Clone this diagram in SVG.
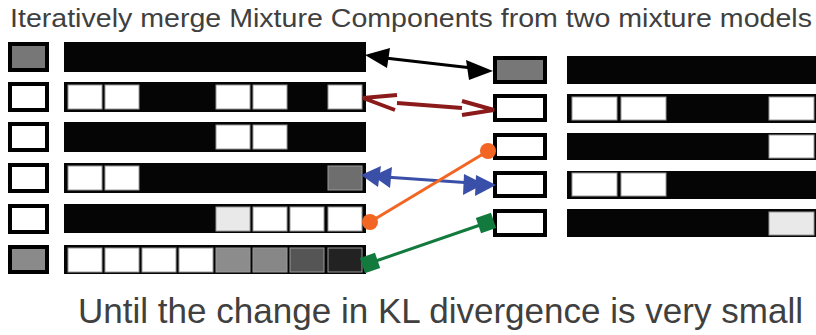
<svg xmlns="http://www.w3.org/2000/svg" width="816" height="335" viewBox="0 0 816 335">
  <style>
    .title { font-family: "Liberation Sans", Arial, Helvetica, sans-serif; fill: #404040; }
    .wbox { stroke: #000; stroke-width: 4; }
    .bar { fill: #050505; }
    .cell { stroke: #9a9a9a; stroke-width: 1; }
    .w { fill: #fff; }
  </style>
  <defs>
    <!-- left mixture cells: 8 slots, pitch 37.2 -->
    <rect id="lc" width="34" height="24" class="cell"/>
    <!-- right mixture cells: pitch 49.3 -->
    <rect id="rc" width="45" height="23" class="cell"/>
  </defs>

  <rect width="816" height="335" fill="#fff"/>

  <text class="title" x="10" y="27" font-size="26" textLength="802" lengthAdjust="spacingAndGlyphs">Iteratively merge Mixture Components from two mixture models</text>

  <!-- Left mixture model -->
  <g id="left-1">
    <rect class="wbox" x="10" y="44" width="37" height="26" fill="#777"/>
    <rect class="bar" x="64" y="42" width="302" height="30"/>
  </g>
  <g id="left-2">
    <rect class="wbox w" x="10" y="84" width="37" height="26"/>
    <rect class="bar" x="64" y="82" width="302" height="30"/>
    <use href="#lc" x="68" y="85" fill="#fff"/>
    <use href="#lc" x="105" y="85" fill="#fff"/>
    <use href="#lc" x="216" y="85" fill="#fff"/>
    <use href="#lc" x="253" y="85" fill="#fff"/>
    <use href="#lc" x="328" y="85" fill="#fff"/>
  </g>
  <g id="left-3">
    <rect class="wbox w" x="10" y="124" width="37" height="26"/>
    <rect class="bar" x="64" y="122" width="302" height="30"/>
    <use href="#lc" x="216" y="125" fill="#fff"/>
    <use href="#lc" x="253" y="125" fill="#fff"/>
  </g>
  <g id="left-4">
    <rect class="wbox w" x="10" y="165" width="37" height="26"/>
    <rect class="bar" x="64" y="163" width="302" height="30"/>
    <use href="#lc" x="68" y="166" fill="#fff"/>
    <use href="#lc" x="105" y="166" fill="#fff"/>
    <use href="#lc" x="328" y="166" fill="#6e6e6e"/>
  </g>
  <g id="left-5">
    <rect class="wbox w" x="10" y="206" width="37" height="26"/>
    <rect class="bar" x="64" y="204" width="302" height="29"/>
    <use href="#lc" x="216" y="207" fill="#e8e9e8"/>
    <use href="#lc" x="253" y="207" fill="#fff"/>
    <use href="#lc" x="290" y="207" fill="#fff"/>
    <use href="#lc" x="328" y="207" fill="#fff"/>
  </g>
  <g id="left-6">
    <rect class="wbox" x="10" y="247" width="37" height="25" fill="#8a8a8a"/>
    <rect class="bar" x="64" y="245" width="302" height="29"/>
    <use href="#lc" x="68" y="248" fill="#fff"/>
    <use href="#lc" x="105" y="248" fill="#fff"/>
    <use href="#lc" x="142" y="248" fill="#fff"/>
    <use href="#lc" x="179" y="248" fill="#fff"/>
    <use href="#lc" x="216" y="248" fill="#8c8c8c"/>
    <use href="#lc" x="253" y="248" fill="#878787"/>
    <use href="#lc" x="290" y="248" fill="#555"/>
    <use href="#lc" x="328" y="248" fill="#222"/>
  </g>

  <!-- Right mixture model -->
  <g id="right-1">
    <rect class="wbox" x="495" y="58" width="50" height="24" fill="#777"/>
    <rect class="bar" x="567" y="56" width="260" height="28"/>
  </g>
  <g id="right-2">
    <rect class="wbox w" x="495" y="96" width="50" height="24"/>
    <rect class="bar" x="567" y="94" width="260" height="29"/>
    <use href="#rc" x="572" y="97" fill="#fff"/>
    <use href="#rc" x="621" y="97" fill="#fff"/>
    <use href="#rc" x="769" y="97" fill="#fff"/>
  </g>
  <g id="right-3">
    <rect class="wbox w" x="495" y="135" width="50" height="23"/>
    <rect class="bar" x="567" y="133" width="260" height="27"/>
    <use href="#rc" x="769" y="135" fill="#fff"/>
  </g>
  <g id="right-4">
    <rect class="wbox w" x="495" y="173" width="50" height="23"/>
    <rect class="bar" x="567" y="171" width="260" height="28"/>
    <use href="#rc" x="572" y="173" fill="#fff"/>
    <use href="#rc" x="621" y="173" fill="#fff"/>
  </g>
  <g id="right-5">
    <rect class="wbox w" x="495" y="211" width="50" height="24"/>
    <rect class="bar" x="567" y="209" width="260" height="28"/>
    <use href="#rc" x="769" y="212" fill="#e8e9e8"/>
  </g>

  <!-- Merge connectors -->
  <g id="connectors">
    <!-- black: filled arrowheads both ends -->
    <g fill="#000" stroke="#000">
      <line x1="385" y1="58" x2="472" y2="68" stroke-width="3"/>
      <polygon points="365,55 390,48 387,68" stroke="none"/>
      <polygon points="493,71 466,60 469,80" stroke="none"/>
    </g>
    <!-- dark red: open chevrons -->
    <g fill="none" stroke="#8b1a1a" stroke-width="4" stroke-linecap="butt">
      <line x1="397" y1="103" x2="462" y2="108"/>
      <polyline points="397,95 363,98 395,110"/>
      <polyline points="462,101 494,110 462,115"/>
    </g>
    <!-- blue: double arrowheads both ends -->
    <g fill="#3a50a8">
      <line x1="385" y1="177" x2="472" y2="183" stroke="#3a50a8" stroke-width="3"/>
      <polygon points="361,175 381,166 378,187"/>
      <polygon points="373,176 392,167 390,188"/>
      <polygon points="496,185 476,175 475,196"/>
      <polygon points="484,184 464,174 463,195"/>
    </g>
    <!-- orange: round ends -->
    <g fill="#f26522">
      <line x1="370" y1="222" x2="488" y2="151" stroke="#f26522" stroke-width="3"/>
      <circle cx="370" cy="222" r="8"/>
      <circle cx="488" cy="151" r="8"/>
    </g>
    <!-- green: square ends -->
    <g fill="#127a3c">
      <line x1="370" y1="263" x2="486" y2="223" stroke="#127a3c" stroke-width="3"/>
      <rect x="-8" y="-8" width="16" height="16" transform="translate(370 263) rotate(-19)"/>
      <rect x="-8" y="-8" width="16" height="16" transform="translate(486 223) rotate(-19)"/>
    </g>
  </g>

  <text class="title" x="78" y="323" font-size="35" textLength="725" lengthAdjust="spacingAndGlyphs">Until the change in KL divergence is very small</text>
</svg>
